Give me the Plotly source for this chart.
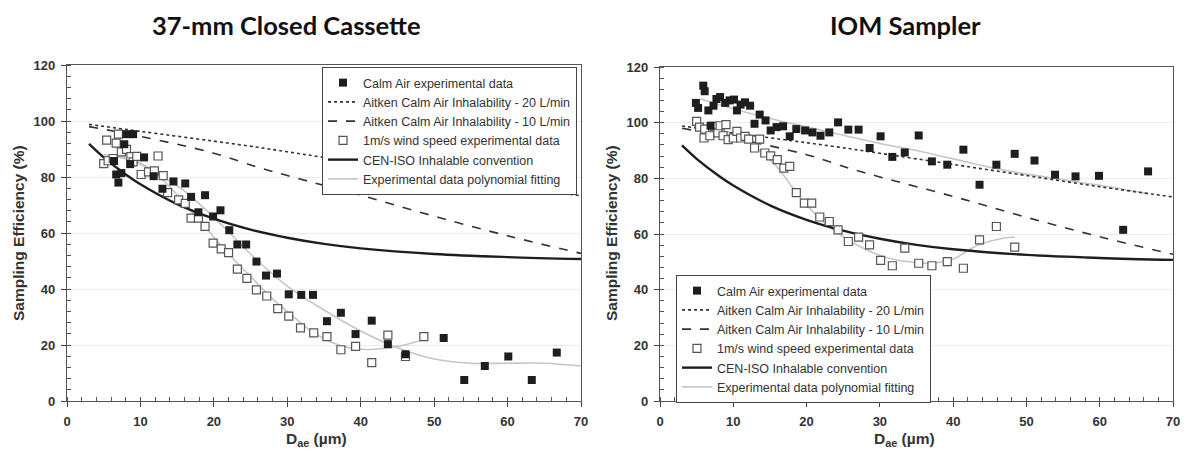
import plotly.graph_objects as go

W, H = 1193, 454
OFF = 8                      # page body margin of the browser
FW, FH = W - OFF, H - OFF


def px(xs):
    return (xs - OFF) / FW


def py(ys):
    return 1 - (ys - OFF) / FH


# ---------------- data ----------------
# CEN-ISO inhalable convention (same on both panels)
cen_d = [3, 5, 8, 10, 15, 20, 25, 30, 35, 40, 50, 60, 70]
cen_e = [91.8, 87.0, 80.9, 77.4, 70.3, 65.1, 61.2, 58.3, 56.1, 54.5, 52.5, 51.4, 50.7]

# Aitken calm-air inhalability curves (same on both panels)
aitken_d = [3, 10, 20, 26, 30, 40, 50, 60, 70]
aitken20_e = [98.8, 96.3, 92.8, 90.6, 89.0, 85.0, 81.0, 77.0, 73.3]
aitken10_e = [98.0, 94.5, 88.5, 83.5, 80.5, 73.5, 66.0, 59.0, 52.7]

# 37-mm Closed Cassette
cc_calm_d = [6.4, 6.7, 7.0, 7.4, 7.8, 8.1, 8.6, 9.0, 10.5, 11.8, 13.0, 14.5, 16.1, 16.9,
             17.9, 18.8, 19.9, 20.9, 22.1, 23.2, 24.4, 25.8, 27.1, 28.6, 30.2, 31.9, 33.5,
             35.4, 37.3, 39.3, 41.5, 43.7, 46.1, 51.3, 54.1, 56.9, 60.1, 63.3, 66.7]
cc_calm_e = [85.7, 80.9, 78.0, 81.4, 91.7, 95.3, 84.6, 95.3, 87.0, 80.3, 75.8, 78.4, 77.7, 72.9,
             67.4, 73.5, 65.9, 68.1, 61.0, 55.9, 55.9, 49.8, 44.8, 45.5, 38.1, 37.9, 37.9,
             28.5, 31.5, 23.9, 28.7, 20.3, 16.7, 22.5, 7.5, 12.5, 15.9, 7.5, 17.3]
cc_wind_d = [5.0, 5.4, 5.6, 6.3, 6.7, 7.0, 7.4, 8.1, 8.7, 9.0, 9.5, 10.1, 11.1, 11.9, 12.4,
             13.1, 13.7, 15.2, 16.1, 16.9, 17.9, 18.8, 19.9, 21.0, 22.0, 23.2, 24.5, 25.8,
             27.2, 28.7, 30.2, 31.8, 33.6, 35.4, 37.3, 39.3, 41.5, 43.7, 46.1, 48.6]
cc_wind_e = [84.8, 93.2, 85.8, 86.6, 92.1, 95.3, 89.0, 89.9, 87.3, 85.4, 87.4, 80.9, 81.8, 82.2, 87.5,
             80.5, 74.4, 71.8, 70.6, 65.3, 65.3, 62.4, 56.4, 54.3, 53.0, 47.1, 43.8, 39.7,
             37.5, 33.0, 30.3, 26.1, 24.3, 23.0, 18.3, 19.5, 13.7, 23.5, 15.9, 23.0]
cc_calm_fit_d = [5, 8, 10, 12, 14, 16, 18, 20, 22, 25, 30, 35, 40, 45, 50, 55, 60, 65, 70]
cc_calm_fit_e = [88, 86.5, 84.5, 82, 78.5, 75, 70.5, 65.5, 60.5, 52.5, 41, 32.5, 25, 19, 15, 13.5, 13.5, 13.5, 12.5]
cc_wind_fit_d = [5, 8, 10, 12, 14, 16, 18, 20, 22, 25, 28, 30, 33, 36, 39, 42, 45, 48.6]
cc_wind_fit_e = [87, 87, 85, 81.5, 76.5, 70.5, 64.5, 58.5, 52.5, 44.5, 36.5, 32, 25.5, 21, 18.7, 18.5, 19.5, 22]

# IOM Sampler
iom_calm_d = [4.9, 5.2, 5.9, 6.1, 6.6, 6.9, 7.3, 7.7, 8.2, 8.9, 9.5, 10.1, 10.5, 11.0, 11.6,
              12.3, 12.9, 13.6, 14.4, 15.1, 15.9, 16.8, 17.7, 18.6, 19.8, 20.8, 21.9, 23.1,
              24.3, 25.7, 27.1, 28.6, 30.1, 31.7, 33.4, 35.3, 37.1, 39.2, 41.4, 43.6, 45.9,
              48.4, 51.1, 53.9, 56.7, 59.9, 63.2, 66.6]
iom_calm_e = [107.1, 105.3, 113.3, 111.3, 104.4, 98.9, 106.1, 108.5, 109.2, 107.1, 108.0, 108.3, 104.4, 106.5, 107.3,
              106.1, 99.6, 102.9, 100.8, 97.2, 98.4, 98.7, 95.1, 97.7, 97.2, 96.5, 95.3, 96.5,
              100.1, 97.5, 97.5, 90.9, 95.1, 87.7, 89.3, 95.4, 86.1, 84.9, 90.3, 77.7, 84.9,
              88.8, 86.4, 81.3, 80.7, 80.9, 61.5, 82.5]
iom_wind_d = [5.0, 5.4, 6.0, 6.1, 6.8, 7.4, 7.9, 8.2, 8.6, 9.0, 9.3, 10.0, 10.5, 11.0, 11.6,
              12.1, 12.9, 13.6, 14.3, 15.1, 16.0, 16.9, 17.7, 18.6, 19.7, 20.7, 21.8, 23.1,
              24.3, 25.7, 27.1, 28.6, 30.1, 31.7, 33.4, 35.3, 37.1, 39.2, 41.4, 43.6, 45.9, 48.4]
iom_wind_e = [100.5, 98.4, 94.5, 97.7, 95.3, 98.7, 96.3, 98.9, 95.3, 99.3, 93.9, 94.5, 96.9, 94.5, 95.1,
              94.1, 90.9, 94.1, 89.1, 88.1, 86.7, 83.7, 84.3, 74.9, 71.1, 71.1, 66.1, 64.5,
              61.5, 57.3, 58.9, 56.1, 50.5, 48.6, 54.9, 49.5, 48.6, 50.1, 47.7, 57.9, 62.7, 55.3]
iom_calm_fit_d = [5.5, 10, 15, 20, 25, 30, 35, 40, 45, 50, 55, 60, 66.6]
iom_calm_fit_e = [108.5, 105, 101.5, 98.5, 95.5, 92.5, 90, 87, 84, 81.5, 79.5, 77.5, 74.5]
iom_wind_fit_d = [5, 8, 10, 12, 14, 16, 18, 20, 22, 25, 28, 31, 34, 37, 40, 43, 46, 48.4]
iom_wind_fit_e = [99, 97.5, 96, 93.5, 89, 84, 77, 70.5, 65, 59, 54.5, 51.5, 50, 49.5, 51, 55.5, 58, 59]

titles = ["37-mm Closed Cassette", "IOM Sampler"]
names = ["Calm Air experimental data",
         "Aitken Calm Air Inhalability - 20 L/min",
         "Aitken Calm Air Inhalability - 10 L/min",
         "1m/s wind speed experimental data",
         "CEN-ISO Inhalable convention",
         "Experimental data polynomial fitting"]
x_ticks = [0, 10, 20, 30, 40, 50, 60, 70]
y_ticks = [0, 20, 40, 60, 80, 100, 120]

# ---------------- styles ----------------
FONT = "Arial, Liberation Sans, sans-serif"
DARK = "#1e1e1e"
FIT = "#c6c6c6"

fig = go.Figure()

panels = [
    dict(xa="x", ya="y", leg="legend",
         calm=(cc_calm_d, cc_calm_e), wind=(cc_wind_d, cc_wind_e),
         cfit=(cc_calm_fit_d, cc_calm_fit_e), wfit=(cc_wind_fit_d, cc_wind_fit_e)),
    dict(xa="x2", ya="y2", leg="legend2",
         calm=(iom_calm_d, iom_calm_e), wind=(iom_wind_d, iom_wind_e),
         cfit=(iom_calm_fit_d, iom_calm_fit_e), wfit=(iom_wind_fit_d, iom_wind_fit_e)),
]

for p in panels:
    common = dict(xaxis=p["xa"], yaxis=p["ya"], legend=p["leg"])
    # lines first (drawn underneath)
    fig.add_trace(go.Scatter(x=p["cfit"][0], y=p["cfit"][1], mode="lines", line_shape="spline",
                             line=dict(color=FIT, width=1.6), name=names[5],
                             legendrank=6, **common))
    fig.add_trace(go.Scatter(x=p["wfit"][0], y=p["wfit"][1], mode="lines", line_shape="spline",
                             line=dict(color=FIT, width=1.6), name=names[5], showlegend=False,
                             **common))
    fig.add_trace(go.Scatter(x=aitken_d, y=aitken20_e, mode="lines", line_shape="spline",
                             line=dict(color="#333333", width=1.6, dash="dot"), name=names[1],
                             legendrank=2, **common))
    fig.add_trace(go.Scatter(x=aitken_d, y=aitken10_e, mode="lines", line_shape="spline",
                             line=dict(color="#333333", width=1.6, dash="dash"), name=names[2],
                             legendrank=3, **common))
    fig.add_trace(go.Scatter(x=cen_d, y=cen_e, mode="lines", line_shape="spline",
                             line=dict(color=DARK, width=2.4), name=names[4],
                             legendrank=5, **common))
    fig.add_trace(go.Scatter(x=p["wind"][0], y=p["wind"][1], mode="markers",
                             marker=dict(symbol="square", size=8, color="white",
                                         line=dict(color="#555555", width=1.2)),
                             name=names[3], legendrank=4, **common))
    fig.add_trace(go.Scatter(x=p["calm"][0], y=p["calm"][1], mode="markers",
                             marker=dict(symbol="square", size=8, color=DARK,
                                         line=dict(width=0)),
                             name=names[0], legendrank=1, **common))


def xaxis(domain, anchor):
    return dict(domain=domain, anchor=anchor, range=[0, 70], tickmode="array", tickvals=x_ticks,
                ticks="outside", ticklen=5, tickcolor="#444", tickwidth=1.2,
                minor=dict(dtick=2, tick0=0, ticks="inside", ticklen=4, tickcolor="#555", tickwidth=1),
                showline=True, linecolor="#555", linewidth=1.3, mirror=True,
                showgrid=False, zeroline=False, ticklabelstandoff=3, automargin=False,
                tickfont=dict(family=FONT, size=13, color="#333", weight="bold"))


def yaxis(domain, anchor):
    return dict(domain=domain, anchor=anchor, range=[0, 120], tickmode="array", tickvals=y_ticks,
                ticks="outside", ticklen=5, tickcolor="#444", tickwidth=1.2,
                minor=dict(dtick=4, tick0=0, ticks="inside", ticklen=4, tickcolor="#555", tickwidth=1),
                showline=True, linecolor="#555", linewidth=1.3, mirror=True,
                showgrid=True, gridcolor="#ebebeb", gridwidth=1, zeroline=False,
                ticklabelstandoff=3, automargin=False,
                tickfont=dict(family=FONT, size=13, color="#333", weight="bold"))


fig.update_layout(
    width=FW, height=FH, margin=dict(l=0, r=0, t=0, b=0, autoexpand=False),
    paper_bgcolor="white", plot_bgcolor="white",
    xaxis=xaxis([px(67), px(581)], "y"),
    yaxis=yaxis([py(401), py(65)], "x"),
    xaxis2=xaxis([px(660), px(1173)], "y2"),
    yaxis2=yaxis([py(401), py(67)], "x2"),
    legend=dict(x=px(322), y=py(67), xanchor="left", yanchor="top",
                bgcolor="white", bordercolor="#444", borderwidth=1,
                font=dict(family=FONT, size=12.5, color="#333"),
                traceorder="normal"),
    legend2=dict(x=px(676), y=py(275), xanchor="left", yanchor="top",
                 bgcolor="white", bordercolor="#444", borderwidth=1,
                 font=dict(family=FONT, size=12.5, color="#333"),
                 traceorder="normal"),
    showlegend=True,
)

ann = []
for cx, t in zip([286, 905], titles):
    ann.append(dict(x=px(cx), y=py(25), xref="paper", yref="paper", text="<b>%s</b>" % t,
                    showarrow=False, xanchor="center", yanchor="middle", borderpad=0,
                    font=dict(family="Lato, Open Sans, sans-serif", size=25.5, color="#111")))
for cx in [18, 611]:
    ann.append(dict(x=px(cx), y=py(233), xref="paper", yref="paper",
                    text="<b>Sampling Efficiency (%)</b>", textangle=-90, showarrow=False,
                    xanchor="center", yanchor="middle",
                    font=dict(family=FONT, size=15.5, color="#333")))
for cx in [316, 904]:
    ann.append(dict(x=px(cx), y=py(439), xref="paper", yref="paper",
                    text="<b>D<sub>ae</sub> (µm)</b>", showarrow=False,
                    xanchor="center", yanchor="middle",
                    font=dict(family=FONT, size=15.5, color="#333")))
fig.update_layout(annotations=ann)

fig.write_html("out.html")
